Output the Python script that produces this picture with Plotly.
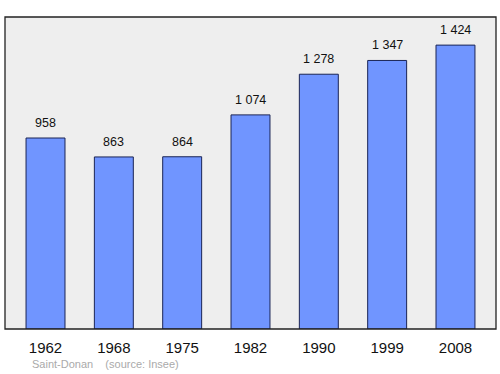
import plotly.graph_objects as go

years = ["1962", "1968", "1975", "1982", "1990", "1999", "2008"]
population = [958, 863, 864, 1074, 1278, 1347, 1424]
labels = ["958", "863", "864", "1 074", "1 278", "1 347", "1 424"]

fig = go.Figure()
fig.add_trace(go.Bar(
    x=list(range(len(years))), y=population, width=0.57,
    marker=dict(color="#7095ff", line=dict(color="#1a2455", width=1)),
    hoverinfo="skip"))

for i, (v, t) in enumerate(zip(population, labels)):
    fig.add_annotation(x=i, y=v, text=t, showarrow=False, yanchor="bottom",
                       yshift=6, font=dict(family="Liberation Sans, Arial", size=12.5, color="#111"))

fig.add_shape(type="rect", xref="paper", yref="paper", x0=0, y0=0, x1=1, y1=1,
              line=dict(color="#222", width=1.3))

fig.add_annotation(xref="paper", yref="paper", x=0, y=0, xshift=25, yshift=-35,
                   xanchor="left", yanchor="middle", showarrow=False,
                   text="Saint-Donan &nbsp;&nbsp;&nbsp;(source: Insee)",
                   font=dict(family="Liberation Sans, Arial", size=11, color="#aaaaaa"))

fig.update_layout(
    width=500, height=374, margin=dict(l=5, r=4, t=17, b=45),
    paper_bgcolor="white", plot_bgcolor="#eeeeee", showlegend=False,
    xaxis=dict(range=[-0.593, 6.593], tickmode="array", tickvals=list(range(len(years))),
               ticktext=years, showgrid=False, zeroline=False, ticks="",
               ticklabelstandoff=8,
               tickfont=dict(family="Liberation Sans, Arial", size=15, color="#111")),
    yaxis=dict(range=[0, 1565], showgrid=False, zeroline=False, showticklabels=False, ticks=""),
)
fig.write_html("out.html")
